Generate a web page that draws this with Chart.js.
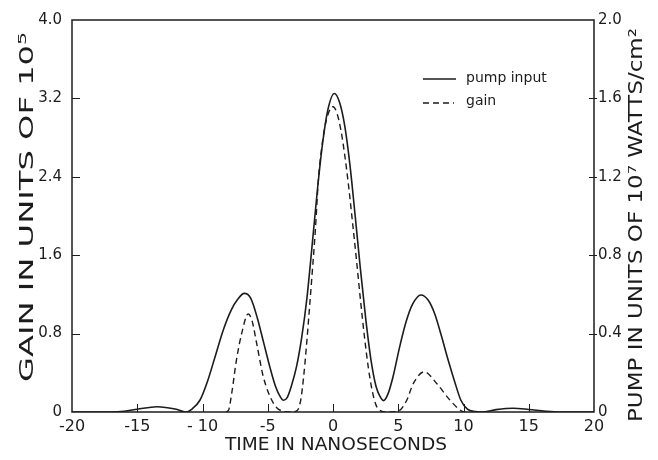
<!DOCTYPE html>
<html>
<head>
<meta charset="utf-8">
<script src="https://cdn.jsdelivr.net/npm/chart.js@4"></script>
<style>
  html, body { margin: 0; padding: 0; background: #fff; }
  #wrap { width: 658px; height: 460px; }
</style>
</head>
<body>
<div id="wrap"><canvas id="chart" width="658" height="460"></canvas></div>
<script>
// ---------- data ----------
// pump input (right axis, units of 10^7 W/cm^2)
const pumpTime = [-20, -17, -16, -15, -13.5, -12, -11.3, -10.8, -10.2, -9.6, -9.0, -8.4, -7.8, -7.3, -6.8, -6.3,
  -5.8, -5.3, -4.8, -4.4, -4.1, -3.8, -3.5, -3.2, -2.8, -2.4, -2.0, -1.6, -1.2, -0.8, -0.4, 0.1, 0.5, 0.9,
  1.3, 1.7, 2.1, 2.5, 2.9, 3.3, 3.6, 3.86, 4.2, 4.6, 5.1, 5.6, 6.1, 6.74, 7.3, 7.8, 8.3, 8.8, 9.3, 9.8,
  10.3, 10.9, 11.4, 12.5, 13.8, 15, 16.3, 17.4, 20];
const pumpValue = [0, 0, 0.004, 0.014, 0.027, 0.014, 0, 0.015, 0.06, 0.16, 0.29, 0.42, 0.52, 0.575, 0.605, 0.58,
  0.48, 0.35, 0.22, 0.13, 0.085, 0.06, 0.075, 0.13, 0.23, 0.38, 0.58, 0.85, 1.13, 1.37, 1.54, 1.625, 1.58, 1.46,
  1.26, 1.0, 0.73, 0.48, 0.27, 0.13, 0.08, 0.058, 0.09, 0.18, 0.33, 0.46, 0.55, 0.597, 0.57, 0.5, 0.39, 0.27, 0.16, 0.06,
  0.015, 0.002, 0, 0.012, 0.019, 0.013, 0.004, 0, 0];

// gain (left axis, units of 10^5)
const gainTime = [-8.2, -8.0, -7.75, -7.4, -7.0, -6.5, -6.2, -5.85, -5.34, -4.57, -3.9, -3.3, -2.9, -2.66, -2.45,
  -2.25, -2.05, -1.85, -1.6, -1.35, -1.12, -0.9, -0.65, -0.35, 0, 0.3, 0.6, 0.9, 1.2, 1.5, 1.8, 2.1, 2.4,
  2.7, 3.0, 3.3, 3.7, 4.2, 5.0, 5.65, 6.15, 7.0, 7.95, 8.97, 9.86, 10.2];
const gainValue = [0, 0.02, 0.2, 0.53, 0.8, 1.0, 0.93, 0.7, 0.36, 0.09, 0.01, 0, 0.005, 0.03, 0.14,
  0.36, 0.65, 0.98, 1.41, 1.86, 2.37, 2.66, 2.89, 3.05, 3.115, 3.05, 2.88, 2.62, 2.3, 1.93, 1.55, 1.15, 0.78,
  0.46, 0.22, 0.07, 0.01, 0, 0.01, 0.12, 0.29, 0.41, 0.29, 0.12, 0.01, 0];

const timeTicks = [-20, -15, -10, -5, 0, 5, 10, 15, 20];
const timeTickLabels = ["-20", "-15", "- 10", "-5", "0", "5", "10", "15", "20"];
const gainTicks = [0, 0.8, 1.6, 2.4, 3.2, 4.0];
const gainTickLabels = ["0", "0.8", "1.6", "2.4", "3.2", "4.0"];
const pumpTicks = [0, 0.4, 0.8, 1.2, 1.6, 2.0];
const pumpTickLabels = ["0", "0.4", "0.8", "1.2", "1.6", "2.0"];

const seriesNames = ["pump input", "gain"];
const xTitle = "TIME IN NANOSECONDS";
const yTitle = "GAIN IN UNITS OF 10\u2075";
const y1Title = "PUMP IN UNITS OF 10\u2077 WATTS/cm\u00B2";

// ---------- helpers ----------
const INK = "#1c1c1c";
const FONT = "'DejaVu Sans', 'Liberation Sans', sans-serif";

function toPoints(xs, ys) {
  return xs.map((x, i) => ({ x: x, y: ys[i] }));
}

function setTicks(values) {
  return (scale) => { scale.ticks = values.map((v) => ({ value: v })); };
}

// lettering in the original is wide, so stretch the text to the same span
function drawStretched(ctx, text, cx, cy, rot, span, font) {
  ctx.save();
  ctx.translate(cx, cy);
  ctx.rotate(rot);
  ctx.font = font;
  const w = ctx.measureText(text).width;
  ctx.scale(span / w, 1);
  ctx.textAlign = "center";
  ctx.textBaseline = "middle";
  ctx.fillStyle = INK;
  ctx.fillText(text, 0, 0);
  ctx.restore();
}

/* --- frame, inner ticks, titles, legend --- */
const decorations = {
  id: "decorations",
  afterDatasetsDraw(chart) {
    const { ctx, chartArea: a, scales } = chart;
    ctx.save();
    ctx.strokeStyle = INK;
    ctx.lineWidth = 1.5;
    ctx.strokeRect(a.left, a.top, a.right - a.left, a.bottom - a.top);

    ctx.lineWidth = 1;
    ctx.beginPath();
    timeTicks.slice(1, -1).forEach((v) => {
      const px = Math.round(scales.x.getPixelForValue(v)) + 0.5;
      ctx.moveTo(px, a.bottom);
      ctx.lineTo(px, a.bottom - 8);
    });
    gainTicks.slice(1, -1).forEach((v) => {
      const py = Math.round(scales.y.getPixelForValue(v)) + 0.5;
      ctx.moveTo(a.left, py);
      ctx.lineTo(a.left + 8, py);
    });
    pumpTicks.slice(1, -1).forEach((v) => {
      const py = Math.round(scales.y1.getPixelForValue(v)) + 0.5;
      ctx.moveTo(a.right - 5, py);
      ctx.lineTo(a.right + 3, py);
    });
    ctx.stroke();

    // legend
    const lx = a.left + 351, ly = a.top + 59;
    ctx.lineWidth = 1.5;
    ctx.beginPath();
    ctx.moveTo(lx, ly);
    ctx.lineTo(lx + 33, ly);
    ctx.stroke();
    ctx.setLineDash([6, 4]);
    ctx.beginPath();
    ctx.moveTo(lx, ly + 24);
    ctx.lineTo(lx + 31, ly + 24);
    ctx.stroke();
    ctx.setLineDash([]);
    ctx.fillStyle = INK;
    ctx.font = "14px " + FONT;
    ctx.textBaseline = "middle";
    ctx.textAlign = "left";
    ctx.fillText(seriesNames[0], lx + 43, ly - 1);
    ctx.fillText(seriesNames[1], lx + 43, ly + 22);
    ctx.restore();

    drawStretched(ctx, xTitle, (a.left + a.right) / 2 + 3, 445, 0, 222, "18px " + FONT);
    drawStretched(ctx, yTitle, 28, 207, -Math.PI / 2, 350, "20px " + FONT);
    drawStretched(ctx, y1Title, 637, 225, -Math.PI / 2, 394, "19px " + FONT);
  },
};

const tickFont = { family: FONT, size: 15 };

new Chart(document.getElementById("chart"), {
  type: "line",
  data: {
    datasets: [
      {
        label: seriesNames[0],
        data: toPoints(pumpTime, pumpValue),
        yAxisID: "y1",
        borderColor: INK,
        borderWidth: 1.6,
        pointRadius: 0,
        cubicInterpolationMode: "monotone",
        fill: false,
      },
      {
        label: seriesNames[1],
        data: toPoints(gainTime, gainValue),
        yAxisID: "y",
        borderColor: INK,
        borderWidth: 1.4,
        borderDash: [6, 4],
        pointRadius: 0,
        cubicInterpolationMode: "monotone",
        fill: false,
      },
    ],
  },
  options: {
    responsive: false,
    animation: false,
    events: [],
    layout: { padding: { top: 20, left: 0, right: 0, bottom: 0 } },
    plugins: {
      legend: { display: false },
      tooltip: { enabled: false },
    },
    scales: {
      x: {
        type: "linear",
        min: -20,
        max: 20,
        afterBuildTicks: setTicks(timeTicks),
        afterFit: (s) => { s.height = 48; },
        ticks: {
          color: INK,
          font: { family: FONT, size: 16 },
          padding: 5,
          maxRotation: 0,
          callback: (v, i) => timeTickLabels[i],
        },
        grid: { display: false, drawTicks: false },
        border: { display: false },
      },
      y: {
        position: "left",
        min: 0,
        max: 4,
        afterBuildTicks: setTicks(gainTicks),
        afterFit: (s) => { s.width = 72; },
        ticks: {
          color: INK,
          font: tickFont,
          padding: 10,
          callback: (v, i) => gainTickLabels[i],
        },
        grid: { display: false, drawTicks: false },
        border: { display: false },
      },
      y1: {
        position: "right",
        min: 0,
        max: 2,
        afterBuildTicks: setTicks(pumpTicks),
        afterFit: (s) => { s.width = 64; },
        ticks: {
          color: INK,
          font: tickFont,
          padding: 4,
          callback: (v, i) => pumpTickLabels[i],
        },
        grid: { display: false, drawTicks: false },
        border: { display: false },
      },
    },
  },
  plugins: [decorations],
});
</script>
</body>
</html>
